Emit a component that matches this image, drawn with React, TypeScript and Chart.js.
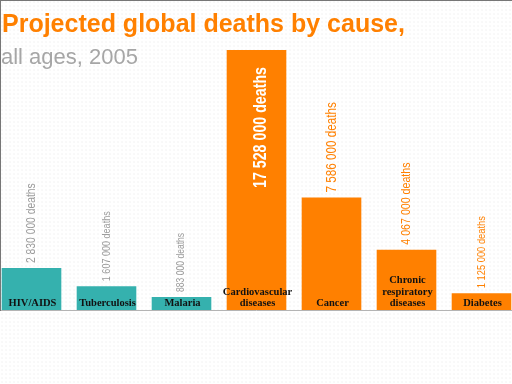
import React, { useEffect, useRef } from "react";
import { Chart, registerables } from "chart.js";

Chart.register(...registerables);

// ---- data ----
const causes: string[][] = [
  ["HIV/AIDS"],
  ["Tuberculosis"],
  ["Malaria"],
  ["Cardiovascular", "diseases"],
  ["Cancer"],
  ["Chronic", "respiratory", "diseases"],
  ["Diabetes"],
];
const deaths: number[] = [2830000, 1607000, 883000, 17528000, 7586000, 4067000, 1125000];
const groups: string[] = [
  "communicable",
  "communicable",
  "communicable",
  "chronic",
  "chronic",
  "chronic",
  "chronic",
];
const titleText = "Projected global deaths by cause,";
const subtitleText = "all ages, 2005";

// ---- styles ----
const ORANGE = "#ff8000";
const TEAL = "#35b1ae";
const groupColors: Record<string, string> = { communicable: TEAL, chronic: ORANGE };
const groupLabelColors: Record<string, string> = { communicable: "#9c9c9c", chronic: ORANGE };
const valueFontSizes = [12.9, 11.3, 10.7, 17.8, 14.6, 13.3, 11.7];
const CONDENSE = 0.8;
const SHIFT = 6; // canvas is shifted left so the category band starts off-page

const formatDeaths = (v: number) =>
  String(v).replace(/\B(?=(\d{3})+(?!\d))/g, " ") + " deaths";

const labelPlugin = {
  id: "barLabels",
  afterDatasetsDraw(chart: any) {
    const ctx: CanvasRenderingContext2D = chart.ctx;
    const area = chart.chartArea;
    const meta = chart.getDatasetMeta(0);
    const maxIdx = deaths.indexOf(Math.max(...deaths));

    // baseline
    ctx.save();
    ctx.strokeStyle = "#b4b4b4";
    ctx.lineWidth = 1;
    ctx.beginPath();
    ctx.moveTo(0, area.bottom + 0.5);
    ctx.lineTo(chart.width, area.bottom + 0.5);
    ctx.stroke();
    ctx.restore();

    meta.data.forEach((bar: any, i: number) => {
      const x = bar.x;
      const top = bar.y;
      const text = formatDeaths(deaths[i]);
      ctx.save();
      if (i === maxIdx) {
        ctx.font = `bold ${valueFontSizes[i]}px "Liberation Sans", Arial, sans-serif`;
        ctx.fillStyle = "#ffffff";
        ctx.translate(x + 5, top + 17);
        ctx.rotate(-Math.PI / 2);
        ctx.scale(CONDENSE, 1);
        ctx.textAlign = "right";
      } else {
        ctx.font = `${valueFontSizes[i]}px "Liberation Sans", Arial, sans-serif`;
        ctx.fillStyle = groupLabelColors[groups[i]];
        ctx.translate(x, top - 5);
        ctx.rotate(-Math.PI / 2);
        ctx.scale(CONDENSE, 1);
        ctx.textAlign = "left";
      }
      ctx.textBaseline = "middle";
      ctx.fillText(text, 0, 0);
      ctx.restore();

      // category label inside bar bottom
      const lines = causes[i];
      ctx.save();
      ctx.font = `bold 10.5px "Liberation Serif", "Times New Roman", serif`;
      ctx.fillStyle = "#111111";
      ctx.textAlign = "center";
      ctx.textBaseline = "alphabetic";
      const lh = 11.5;
      lines.forEach((ln, k) => {
        const y = area.bottom - 4 - (lines.length - 1 - k) * lh;
        ctx.fillText(ln, x + 1, y);
      });
      ctx.restore();
    });
  },
};

export default function App() {
  const ref = useRef<HTMLCanvasElement | null>(null);

  useEffect(() => {
    document.body.style.margin = "0";
    if (!ref.current) return;
    const chart = new Chart(ref.current, {
      type: "bar",
      data: {
        labels: causes.map((c) => c.join(" ")),
        datasets: [
          {
            data: deaths,
            backgroundColor: groups.map((g) => groupColors[g]),
            borderWidth: 0,
            barPercentage: 0.795,
            categoryPercentage: 1,
          },
        ],
      },
      options: {
        responsive: false,
        animation: false,
        layout: { padding: { top: 50, bottom: 74, left: 0, right: 0 } },
        plugins: {
          legend: { display: false },
          tooltip: { enabled: false },
          title: { display: false },
        },
        scales: {
          x: { display: false },
          y: { display: false, min: 0, max: 17528000 },
        },
      },
      plugins: [labelPlugin],
    });
    return () => chart.destroy();
  }, []);

  return (
    <div
      style={{
        position: "fixed",
        left: 0,
        top: 0,
        width: 512,
        height: 384,
        overflow: "hidden",
        background: "#ffffff",
        backgroundImage: "radial-gradient(circle, #ebebeb 0.5px, transparent 0.8px)",
        backgroundSize: "4px 4px",
      }}
    >
      <canvas
        ref={ref}
        width={525}
        height={384}
        style={{ position: "absolute", left: -SHIFT, top: 0, width: 525, height: 384 }}
      />
      <div style={{ position: "absolute", left: 0, top: 0, width: 512, height: 1, background: "#777" }} />
      <div style={{ position: "absolute", left: 0, top: 0, width: 1, height: 311, background: "#777" }} />
      <div
        style={{
          position: "absolute",
          left: 2,
          top: 11,
          font: 'bold 25px "Liberation Sans", Arial, sans-serif',
          lineHeight: "25px",
          color: ORANGE,
          whiteSpace: "nowrap",
        }}
      >
        {titleText}
      </div>
      <div
        style={{
          position: "absolute",
          left: 1,
          top: 46,
          font: '22px "Liberation Sans", Arial, sans-serif',
          lineHeight: "22px",
          color: "#a6a6a6",
          whiteSpace: "nowrap",
        }}
      >
        {subtitleText}
      </div>
    </div>
  );
}
